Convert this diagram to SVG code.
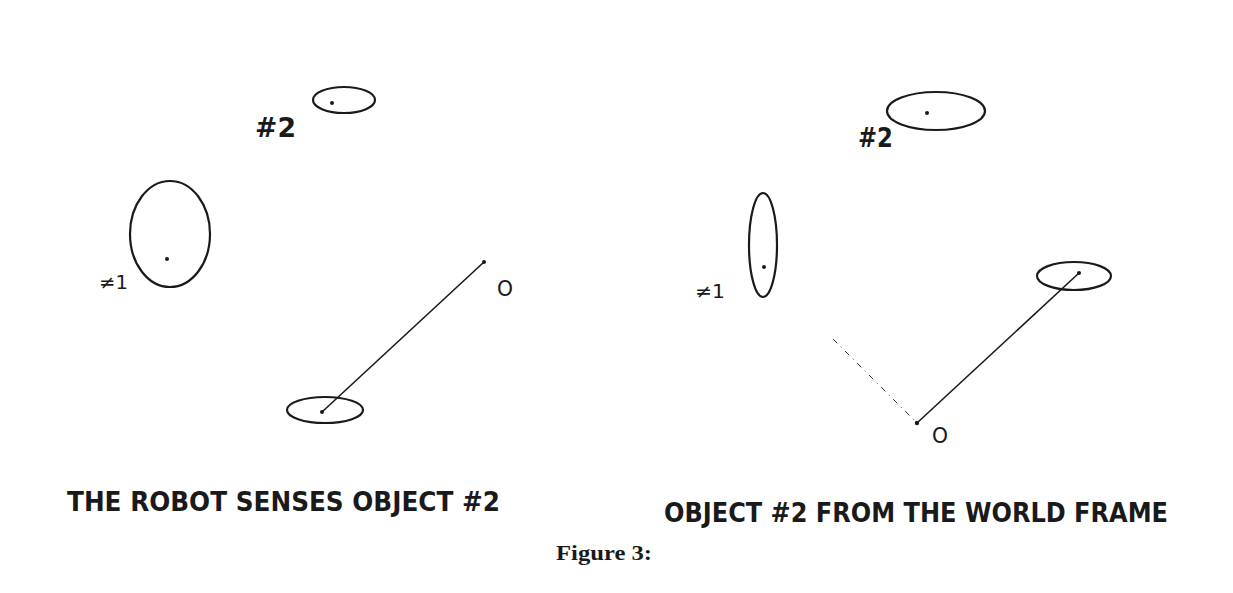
<svg xmlns="http://www.w3.org/2000/svg" width="1233" height="593" viewBox="0 0 1233 593">
<style>
.ell{fill:none;stroke:#1a1a1a;stroke-width:2.2}
.dot{fill:#1a1a1a}
.lbl{font-family:"DejaVu Sans","Liberation Sans",sans-serif;fill:#1a1a1a}
.big{font-weight:bold;font-size:26px}
.small{font-size:19px}
.orig{font-size:22px}
.cap{font-family:"DejaVu Sans","Liberation Sans",sans-serif;font-weight:bold;font-size:26px;fill:#1a1a1a}
.fig{font-family:"Liberation Serif","DejaVu Serif",serif;font-weight:bold;font-size:22px;fill:#1a1a1a}
.conn{stroke:#1a1a1a;stroke-width:1.6;fill:none}
</style>
<rect width="1233" height="593" fill="#ffffff"/>
<g id="left-panel">
  <g id="left-obj2">
    <ellipse class="ell" cx="344" cy="100" rx="31" ry="13"/>
    <circle class="dot" cx="332" cy="103" r="2"/>
    <text class="lbl big" x="255" y="137" textLength="41" lengthAdjust="spacingAndGlyphs">#2</text>
  </g>
  <g id="left-obj1">
    <ellipse class="ell" cx="170" cy="234" rx="40" ry="53"/>
    <circle class="dot" cx="167" cy="259" r="2"/>
    <text class="lbl small" x="99" y="289" textLength="29" lengthAdjust="spacingAndGlyphs">≠1</text>
  </g>
  <g id="left-robot">
    <ellipse class="ell" cx="325" cy="410" rx="38" ry="13"/>
    <circle class="dot" cx="322" cy="412" r="2"/>
  </g>
  <g id="left-origin">
    <circle class="dot" cx="484" cy="262" r="2"/>
    <text class="lbl orig" x="497" y="296" textLength="16" lengthAdjust="spacingAndGlyphs">O</text>
  </g>
</g>
<g id="right-panel">
  <g id="right-obj2">
    <ellipse class="ell" cx="936" cy="111" rx="49" ry="19"/>
    <circle class="dot" cx="927" cy="113" r="2"/>
    <text class="lbl big" x="858" y="147" textLength="35" lengthAdjust="spacingAndGlyphs">#2</text>
  </g>
  <g id="right-obj1">
    <ellipse class="ell" cx="763" cy="245" rx="14" ry="52"/>
    <circle class="dot" cx="764" cy="267" r="2"/>
    <text class="lbl small" x="695" y="298" textLength="30" lengthAdjust="spacingAndGlyphs">≠1</text>
  </g>
  <g id="right-robot">
    <ellipse class="ell" cx="1074" cy="276" rx="37" ry="14"/>
    <circle class="dot" cx="1079" cy="273" r="2"/>
  </g>
  <g id="right-origin">
    <circle class="dot" cx="917" cy="423" r="2.2"/>
    <text class="lbl orig" x="932" y="443" textLength="16" lengthAdjust="spacingAndGlyphs">O</text>
  </g>
</g>
<g id="connectors">
  <line class="conn" x1="322" y1="412" x2="484" y2="262"/>
  <line class="conn" x1="917" y1="423" x2="1079" y2="273"/>
  <line x1="833" y1="339" x2="917" y2="423" stroke="#333" stroke-width="1" stroke-dasharray="6,5,1,5"/>
</g>
<g id="captions">
  <text class="cap" x="67" y="511" textLength="433" lengthAdjust="spacingAndGlyphs">THE ROBOT SENSES OBJECT #2</text>
  <text class="cap" x="664" y="522" textLength="504" lengthAdjust="spacingAndGlyphs">OBJECT #2 FROM THE WORLD FRAME</text>
  <text class="fig" x="556" y="560" textLength="96" lengthAdjust="spacingAndGlyphs">Figure 3:</text>
</g>
</svg>
